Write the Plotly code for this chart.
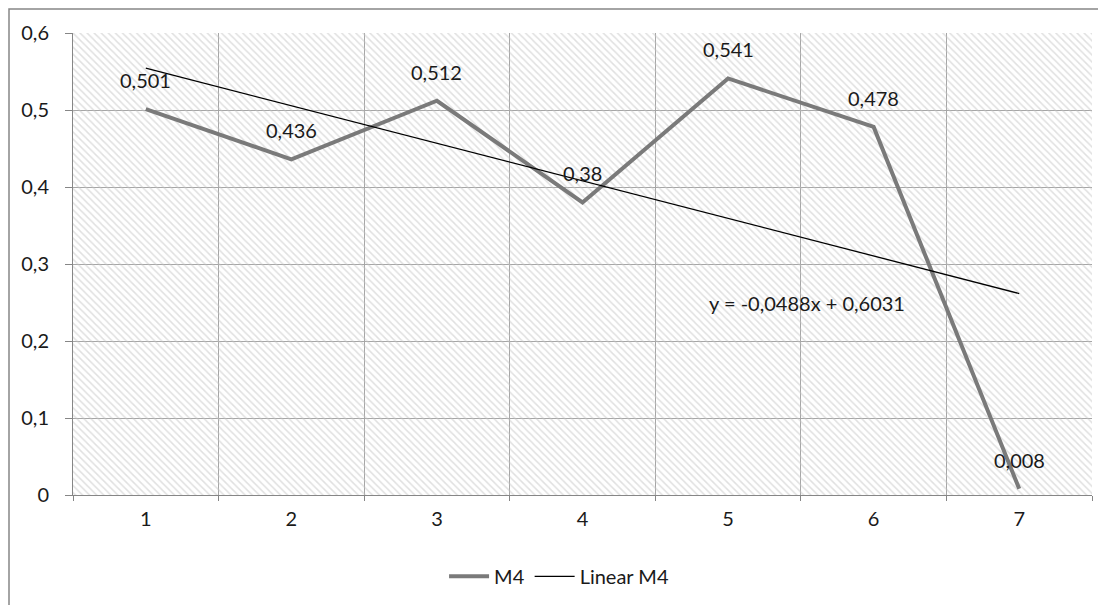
import numpy as np
import plotly.graph_objects as go

categories = ["1", "2", "3", "4", "5", "6", "7"]
m4_values = [0.501, 0.436, 0.512, 0.38, 0.541, 0.478, 0.008]
y_max = 0.6

xn = np.arange(1, len(m4_values) + 1)
slope, intercept = np.polyfit(xn, m4_values, 1)
trend_x = [categories[0], categories[-1]]
trend_y = [slope * xn[0] + intercept, slope * xn[-1] + intercept]
eq_text = "y = {:.4f}x + {:.4f}".format(slope, intercept).replace(".", ",")

FONT = "Lato, 'Open Sans', sans-serif"
FS = 20
TXT = "#1a1a1a"
GRID = "#a6a6a6"
AX = "#868686"

# page body has an 8px margin: plot area on screen is x 73..1092, y 33..495
L, T, PW, PH = 65, 25, 1019, 462
W, H = 1106, 605

fig = go.Figure()

# hatched plot-area background
fig.add_trace(go.Bar(
    x=categories, y=[y_max] * len(categories), width=1,
    marker=dict(color="rgba(0,0,0,0)", line=dict(width=0),
                pattern=dict(shape="\\", fgcolor="#c2c2c2", bgcolor="rgba(0,0,0,0)",
                             size=5, solidity=0.3, fillmode="overlay")),
    hoverinfo="skip", showlegend=False))

fig.add_trace(go.Scatter(
    x=categories, y=m4_values, mode="lines", name="M4",
    line=dict(color="#7a7a7a", width=4)))

fig.add_trace(go.Scatter(
    x=trend_x, y=trend_y, mode="lines", name="Linear M4",
    line=dict(color="#000000", width=1.3)))

for i, v in enumerate(m4_values):
    fig.add_annotation(x=i, y=v, xref="x", yref="y", text=str(v).replace(".", ","),
                       showarrow=False, yshift=29, yanchor="middle",
                       font=dict(family=FONT, size=FS, color=TXT))

fig.add_annotation(x=4.54, y=0.25, xref="x", yref="y", text=eq_text, showarrow=False,
                   font=dict(family=FONT, size=FS, color=TXT))

# outer chart border (figure edge)
fig.add_shape(type="rect", xref="paper", yref="paper",
              x0=(-L + 1) / PW, x1=(W - L + 5) / PW,
              y0=-(H - T - PH + 5) / PH, y1=1 + (T - 1) / PH,
              line=dict(color=AX, width=1.5), fillcolor="rgba(0,0,0,0)", layer="below")

fig.update_layout(
    width=W, height=H,
    margin=dict(l=L, r=W - L - PW, t=T, b=H - T - PH),
    paper_bgcolor="white", plot_bgcolor="white",
    separators=",.",
    bargap=0,
    font=dict(family=FONT, size=FS, color=TXT),
    showlegend=True,
    legend=dict(orientation="h", x=0.477, xanchor="center", y=-0.176, yanchor="middle",
                font=dict(family=FONT, size=FS, color=TXT), itemwidth=40,
                bgcolor="rgba(0,0,0,0)"),
)
fig.update_xaxes(type="category", categoryorder="array", categoryarray=categories,
                 range=[-0.5, len(categories) - 0.5],
                 tickson="boundaries", showgrid=True, gridcolor=GRID, gridwidth=1,
                 showline=True, linecolor=AX, linewidth=1,
                 ticks="outside", ticklen=5, tickcolor=AX, ticklabelstandoff=6,
                 tickfont=dict(family=FONT, size=FS, color=TXT), zeroline=False)
fig.update_yaxes(range=[0, y_max], dtick=0.1, showgrid=True, gridcolor=GRID, gridwidth=1,
                 showline=True, linecolor=AX, linewidth=1,
                 ticks="outside", ticklen=7, tickcolor=AX, ticklabelstandoff=12,
                 tickfont=dict(family=FONT, size=FS, color=TXT), zeroline=False)

fig.write_html("out.html")
